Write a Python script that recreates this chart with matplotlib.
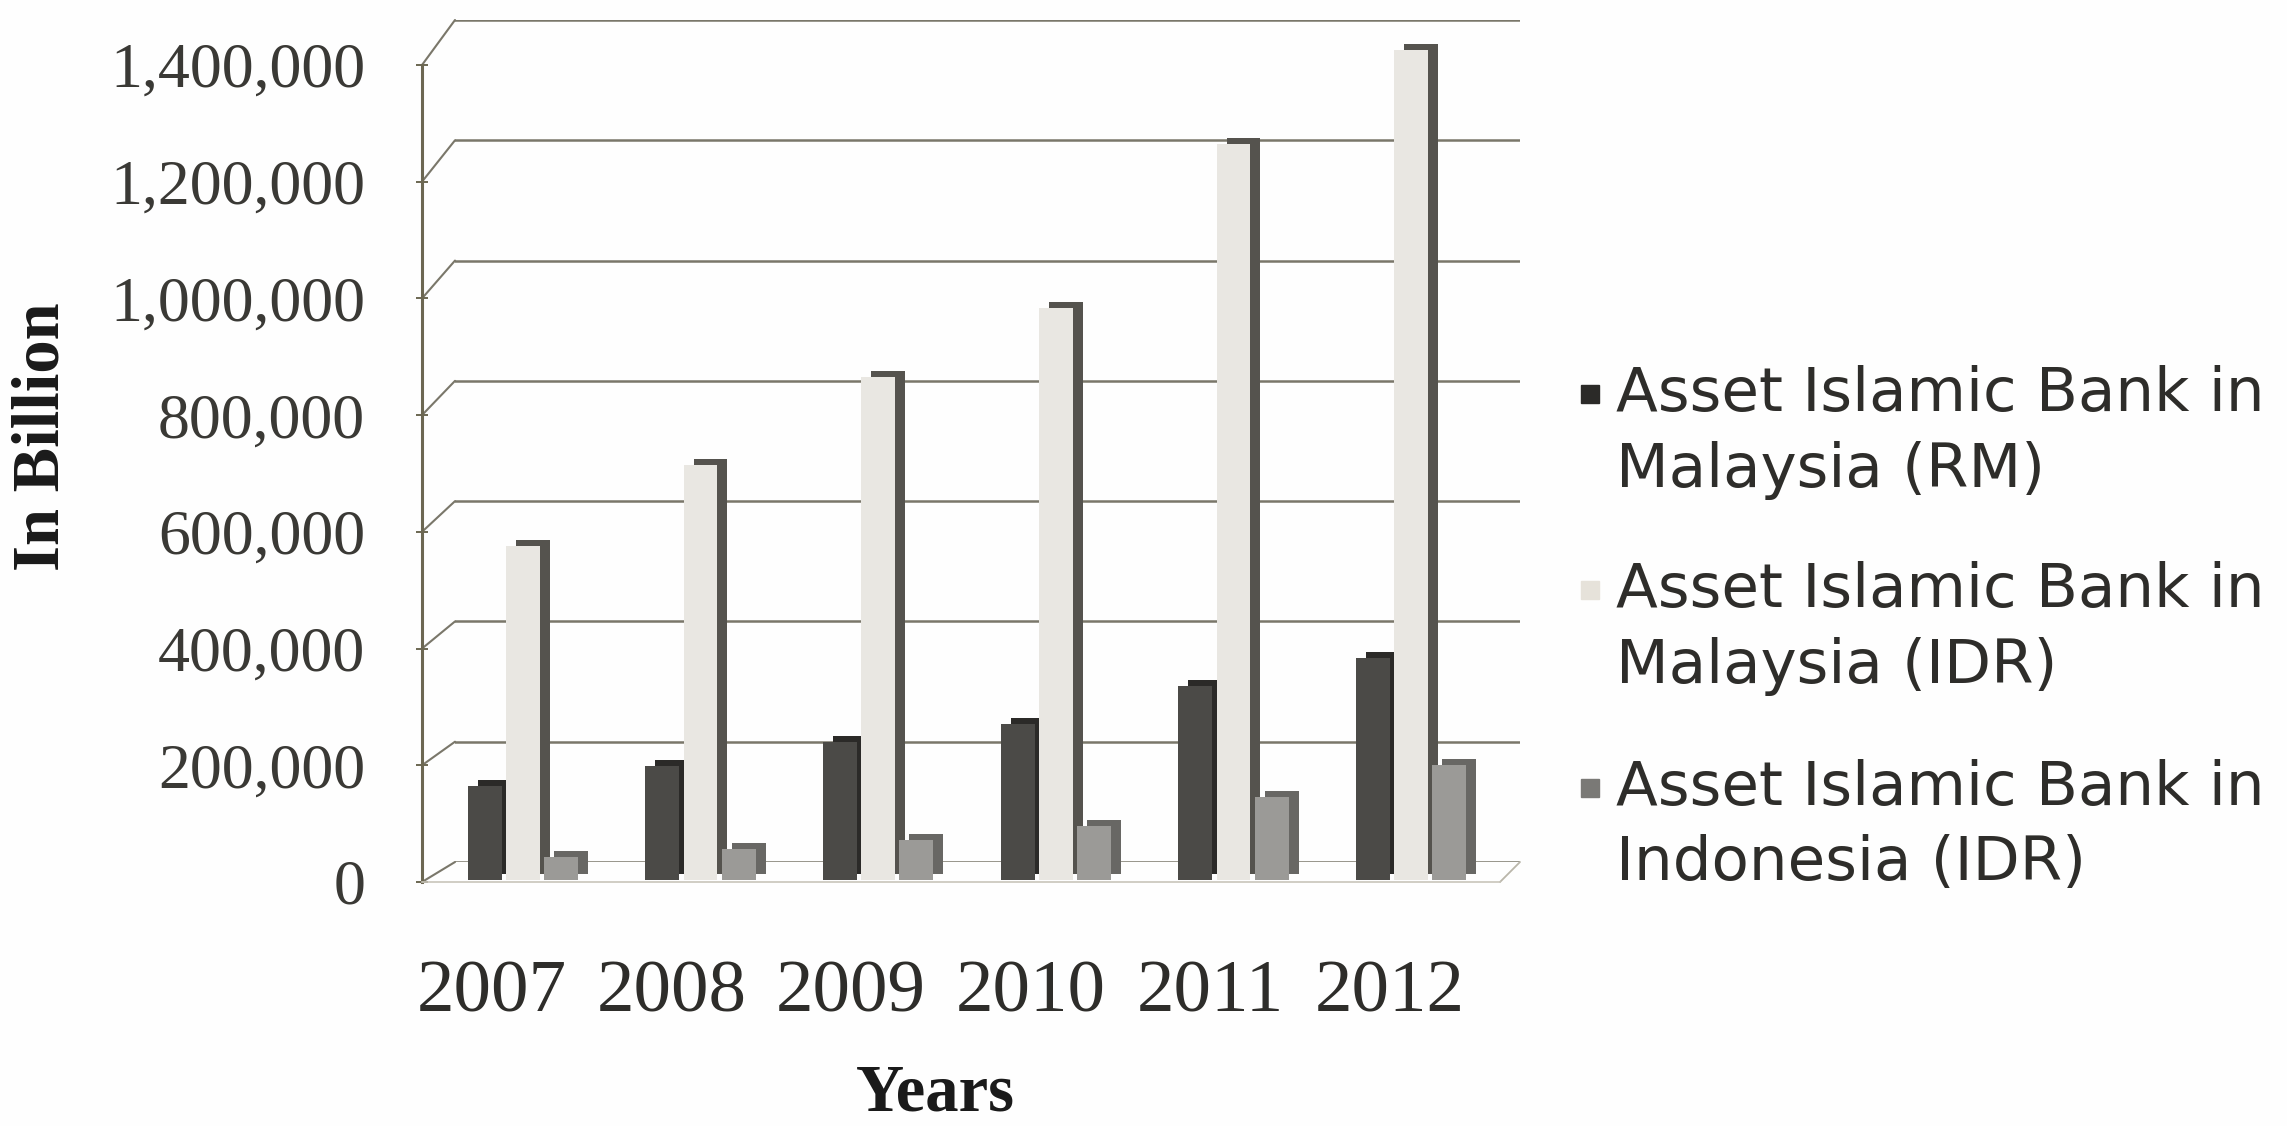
import matplotlib
matplotlib.use("Agg")
import matplotlib.pyplot as plt
import numpy as np
from matplotlib.patches import ConnectionPatch, Rectangle
from matplotlib.transforms import ScaledTranslation
from matplotlib.ticker import StrMethodFormatter

# ---- data -------------------------------------------------------------
years = ["2007", "2008", "2009", "2010", "2011", "2012"]
malaysia_rm = [158000, 191000, 232000, 262000, 326000, 372000]
malaysia_idr = [560000, 696000, 844000, 961000, 1236000, 1393000]
indonesia_idr = [38000, 52000, 67000, 90000, 139000, 193000]
series_labels = [
    ("Asset Islamic Bank in", "Malaysia (RM)"),
    ("Asset Islamic Bank in", "Malaysia (IDR)"),
    ("Asset Islamic Bank in", "Indonesia (IDR)"),
]
y_ticks = [0, 200000, 400000, 600000, 800000, 1000000, 1200000, 1400000]
y_max = 1400000

# ---- styling ----------------------------------------------------------
front_colors = ["#4b4a47", "#e9e7e2", "#9b9a97"]
side_colors = ["#2b2a28", "#55534e", "#686764"]
swatch_colors = ["#2b2a28", "#e6e2da", "#7a7976"]
grid_color = "#7a776a"
axis_color = "#6c6752"
text_color = "#2e2d2a"
serif = ["Liberation Serif", "DejaVu Serif"]

W, H, DPI = 2287, 1126, 100
fig = plt.figure(figsize=(W / DPI, H / DPI), dpi=DPI, facecolor="#fefefe")


def frame(left, right, bottom, top):
    """Axes rectangle from pixel edges measured from the top-left corner."""
    return [left / W, 1 - bottom / H, (right - left) / W, (bottom - top) / H]


# back wall (gridlines), front frame (axis + labels), bar layer
ax_wall = fig.add_axes(frame(455, 1520, 862, 20), zorder=0)
ax = fig.add_axes(frame(422, 1500, 882, 65), zorder=1)
ax_bars = fig.add_axes(frame(434, 1500, 880, 46), zorder=2)

for a in (ax_wall, ax, ax_bars):
    a.set_xlim(-0.5, len(years) - 0.5)
    a.set_ylim(0, y_max)
    a.set_facecolor("none")

# back wall gridlines
ax_wall.set_yticks(y_ticks)
ax_wall.set_xticks([])
ax_wall.grid(axis="y", color=grid_color, linewidth=1.8)
ax_wall.tick_params(left=False, labelleft=False)
for s in ax_wall.spines.values():
    s.set_visible(False)

# diagonal links from the front axis ticks to the back wall
for v in y_ticks:
    fig.add_artist(ConnectionPatch(xyA=(-0.5, v), coordsA=ax.transData,
                                   xyB=(-0.5, v), coordsB=ax_wall.transData,
                                   color=grid_color, linewidth=1.5))
fig.add_artist(ConnectionPatch(xyA=(len(years) - 0.5, 0), coordsA=ax.transData,
                               xyB=(len(years) - 0.5, 0), coordsB=ax_wall.transData,
                               color="#b9b6aa", linewidth=1.3))

# front frame
for side in ("top", "right"):
    ax.spines[side].set_visible(False)
ax.spines["left"].set_color(axis_color)
ax.spines["left"].set_linewidth(2.2)
ax.spines["bottom"].set_color("#c8c5ba")
ax.spines["bottom"].set_linewidth(1.2)
ax.set_yticks(y_ticks)
ax.yaxis.set_major_formatter(StrMethodFormatter("{x:,.0f}"))
ax.tick_params(axis="y", direction="inout", length=8, width=1.4,
               color=axis_color, pad=37, labelsize=46, labelcolor="#3a3935")
for lbl in ax.get_yticklabels():
    lbl.set_fontfamily(serif)

ax.set_xticks(np.arange(len(years)))
ax.set_xticklabels(years)
ax.tick_params(axis="x", length=0, pad=56, labelsize=54, labelcolor=text_color)
shift_left = ScaledTranslation(-20 / DPI, 0, fig.dpi_scale_trans)
for lbl in ax.get_xticklabels():
    lbl.set_fontfamily(serif)
    lbl.set_transform(lbl.get_transform() + shift_left)

ax.set_xlabel("Years", fontsize=48, fontweight="bold",
              family=serif, color="#1a1a1a", va="center")
ax.xaxis.set_label_coords((935 - 422) / 1078, -(1094 - 882) / 817)
ax.set_ylabel("In Billion", fontsize=48, fontweight="bold",
              family=serif, color="#1a1a1a", va="center")
ax.yaxis.set_label_coords((42 - 422) / 1078, (882 - 437) / 817)

# bars with a dark extruded side/top for the 3-D look
ax_bars.axis("off")
x = np.arange(len(years))
series = [malaysia_rm, malaysia_idr, indonesia_idr]
offsets = [-0.215, 0.0, 0.215]
bar_w = 0.19
depth = ScaledTranslation(10 / DPI, 6 / DPI, fig.dpi_scale_trans)
for vals, off, fc, sc in zip(series, offsets, front_colors, side_colors):
    back = ax_bars.bar(x + off, vals, bar_w, color=sc, linewidth=0)
    for p in back:
        p.set_transform(ax_bars.transData + depth)
        p.set_clip_on(False)
    ax_bars.bar(x + off, vals, bar_w, color=fc, linewidth=0)

# legend
entry_y = [394, 590, 788]
line_gap = 76
for (l1, l2), yy, col in zip(series_labels, entry_y, swatch_colors):
    fig.patches.append(Rectangle((1581 / W, 1 - (yy + 9) / H), 18 / W, 18 / H,
                                 transform=fig.transFigure, color=col))
    fig.text(1616 / W, 1 - yy / H, l1, ha="left", va="center",
             fontsize=44, color=text_color)
    fig.text(1616 / W, 1 - (yy + line_gap) / H, l2, ha="left", va="center",
             fontsize=44, color=text_color)

fig.savefig("out.png", dpi=DPI, facecolor=fig.get_facecolor())
